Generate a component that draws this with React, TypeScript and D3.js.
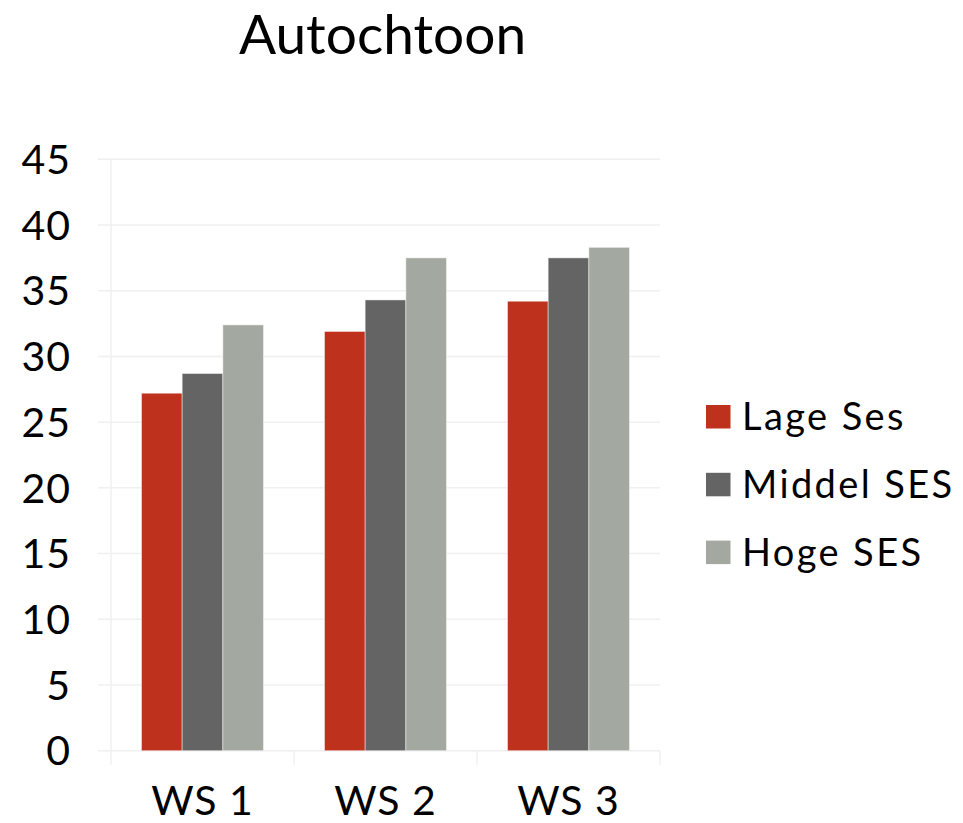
import React from "react";
import * as d3 from "d3";

const categories = ["WS 1", "WS 2", "WS 3"];
const seriesNames = ["Lage Ses", "Middel SES", "Hoge SES"];
const lageSes = [27.2, 31.9, 34.2];
const middelSes = [28.7, 34.3, 37.5];
const hogeSes = [32.4, 37.5, 38.3];
const yTicks = [0, 5, 10, 15, 20, 25, 30, 35, 40, 45];
const colors = ["#BE311C", "#646464", "#A3A9A0"];

const W = 963;
const H = 823;
const FONT = "Lato, 'Open Sans', sans-serif";

export default function App() {
  const series = [lageSes, middelSes, hogeSes];
  const left = 111;
  const right = 660;
  const top = 159.3;
  const bottom = 750.7;

  const x = d3.scaleBand<string>().domain(categories).range([left, right]).paddingInner(0).paddingOuter(0);
  const y = d3.scaleLinear().domain([0, 45]).range([bottom, top]);
  const groupPad = x.bandwidth() / 6;
  const inner = d3
    .scaleBand<number>()
    .domain([0, 1, 2])
    .range([groupPad, x.bandwidth() - groupPad]);

  const boundaries = [...categories.map((c) => x(c) as number), right];

  return (
    <svg
      width={W}
      height={H}
      style={{ position: "absolute", left: 0, top: 0, background: "#fff" }}
      fontFamily={FONT}
    >
      <text x={(left + right) / 2 - 3} y={54} textAnchor="middle" fontSize={55} fill="#000">
        Autochtoon
      </text>
      {yTicks.map((t) => (
        <g key={t}>
          <line x1={98} x2={right} y1={y(t)} y2={y(t)} stroke="#f0f0f0" strokeWidth={1.5} />
          <text
            x={71}
            y={y(t)}
            dy="0.36em"
            textAnchor="end"
            fontSize={41}
            letterSpacing={1}
            fill="#000"
          >
            {t}
          </text>
        </g>
      ))}
      <line x1={left} x2={left} y1={top} y2={bottom + 14} stroke="#f0f0f0" strokeWidth={1.5} />
      {boundaries.slice(1).map((b, i) => (
        <line key={i} x1={b} x2={b} y1={bottom} y2={bottom + 14} stroke="#f0f0f0" strokeWidth={1.5} />
      ))}
      {categories.map((c, ci) =>
        series.map((s, si) => (
          <rect
            key={c + si}
            x={(x(c) as number) + (inner(si) as number)}
            y={y(s[ci])}
            width={inner.bandwidth()}
            height={bottom - y(s[ci])}
            fill={colors[si]}
            stroke="rgba(255,255,255,0.45)"
            strokeWidth={1}
          />
        ))
      )}
      {categories.map((c) => (
        <text
          key={c}
          x={(x(c) as number) + x.bandwidth() / 2}
          y={815}
          textAnchor="middle"
          fontSize={41}
          letterSpacing={1}
          fill="#000"
        >
          {c}
        </text>
      ))}
      {seriesNames.map((n, i) => (
        <g key={n} transform={`translate(706, ${405 + i * 67.8})`}>
          <rect width={24.5} height={23.5} fill={colors[i]} />
          <text x={36} y={25} fontSize={38} letterSpacing={2.4} fill="#000">
            {n}
          </text>
        </g>
      ))}
    </svg>
  );
}
